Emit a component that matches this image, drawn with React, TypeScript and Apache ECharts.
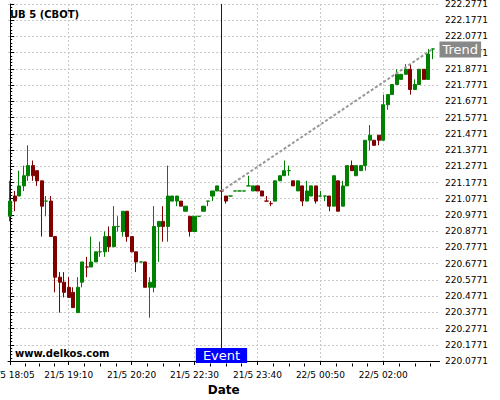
import React, { useEffect, useRef } from 'react';
import * as echarts from 'echarts';

// ---- categories (5-minute bars, two sessions) ----
function buildTimes(day: number, h: number, m: number, count: number): string[] {
  const out: string[] = [];
  let d = day, hh = h, mm = m;
  for (let i = 0; i < count; i++) {
    out.push(`${d}/5 ${String(hh).padStart(2, '0')}:${String(mm).padStart(2, '0')}`);
    mm += 5;
    if (mm >= 60) { mm -= 60; hh += 1; if (hh >= 24) { hh = 0; d += 1; } }
  }
  return out;
}
const CATEGORIES: string[] = [...buildTimes(21, 18, 5, 36), ...buildTimes(21, 22, 5, 60)];
const MAJOR_TICKS = [0, 13, 27, 41, 55, 69, 83];

// ---- OHLC values ----
const OPEN = [
  220.96875, 221.09375, 221.09375, 221.15625, 221.21875, 221.28125, 221.25, 221.1875, 221.0625, 221.0625,
  220.84375, 220.59375, 220.5625, 220.53125, 220.5, 220.375, 220.5625, 220.65625, 220.65625, 220.6875,
  220.75, 220.75, 220.84375, 220.78125, 220.90625, 220.875, 221, 220.84375, 220.75, 220.6875,
  220.6875, 220.53125, 220.53125, 220.90625, 220.9375, 220.90625, 221.0625, 221.0625, 221.0625, 221,
  220.96875, 220.875, 220.96875, 221, 221.0625, 221.09375, 221.125, 221.125, 221.09375, 221.09375,
  221.125, 221.125, 221.125, 221.15625, 221.125, 221.15625, 221.125, 221.0625, 221.046875, 221.0625,
  221.1875, 221.21875, 221.25, 221.1875, 221.125, 221.15625, 221.0625, 221.09375, 221.15625, 221.09375,
  221.09375, 221.09375, 221.03125, 221.1875, 221.03125, 221.15625, 221.28125, 221.21875, 221.25, 221.28125,
  221.4375, 221.4375, 221.46875, 221.4375, 221.65625, 221.71875, 221.78125, 221.8125, 221.84375, 221.875,
  221.75, 221.78125, 221.875, 221.8125, 222,
];
const CLOSE = [
  221.0625, 221.0625, 221.15625, 221.21875, 221.28125, 221.21875, 221.1875, 221.03125, 221.0625, 220.84375,
  220.59375, 220.5625, 220.5, 220.46875, 220.40625, 220.53125, 220.6875, 220.65625, 220.6875, 220.75,
  220.75, 220.84375, 220.78125, 220.90625, 220.90625, 221, 220.84375, 220.75, 220.6875, 220.6875,
  220.53125, 220.5625, 220.90625, 220.9375, 220.90625, 221.09375, 221.09375, 221.09375, 221.03125, 221.03125,
  220.875, 220.96875, 220.96875, 221.03125, 221.0625, 221.125, 221.15625, 221.125, 221.0625, 221.09375,
  221.125, 221.125, 221.125, 221.15625, 221.15625, 221.125, 221.09375, 221.0625, 221.046875, 221.1875,
  221.21875, 221.25, 221.25, 221.15625, 221.1875, 221.0625, 221.125, 221.15625, 221.0625, 221.09375,
  221.09375, 221.03125, 221.21875, 221, 221.15625, 221.28125, 221.25, 221.28125, 221.28125, 221.4375,
  221.46875, 221.40625, 221.4375, 221.65625, 221.71875, 221.78125, 221.84375, 221.84375, 221.875, 221.75,
  221.78125, 221.875, 221.8125, 221.96875, 222,
];
const LOW = [
  220.9375, 221, 221.09375, 221.125, 221.1875, 221.1875, 221.15625, 220.84375, 220.96875, 220.84375,
  220.5, 220.375, 220.46875, 220.46875, 220.40625, 220.375, 220.53125, 220.59375, 220.65625, 220.6875,
  220.71875, 220.71875, 220.75, 220.78125, 220.875, 220.84375, 220.8125, 220.75, 220.625, 220.6875,
  220.53125, 220.34375, 220.5, 220.6875, 220.8125, 220.8125, 221.0625, 221.03125, 221.03125, 221,
  220.84375, 220.875, 220.96875, 221, 221.03125, 221.0625, 221.125, 221.125, 221.046875, 221.09375,
  221.125, 221.125, 221.125, 221.15625, 221.125, 221.125, 221.09375, 221.0625, 221.03125, 221.0625,
  221.1875, 221.21875, 221.21875, 221.15625, 221.125, 221.03125, 221.0625, 221.09375, 221.046875, 221.09375,
  221.0625, 221, 221.03125, 221, 221.03125, 221.15625, 221.25, 221.21875, 221.25, 221.25,
  221.375, 221.40625, 221.40625, 221.4375, 221.625, 221.71875, 221.78125, 221.8125, 221.84375, 221.71875,
  221.75, 221.78125, 221.8125, 221.8125, 221.9375,
];
const HIGH = [
  221.1875, 221.125, 221.25, 221.28125, 221.40625, 221.3125, 221.25, 221.1875, 221.09375, 221.09375,
  220.84375, 220.625, 220.625, 220.59375, 220.53125, 220.59375, 220.6875, 220.71875, 220.84375, 220.75,
  220.8125, 220.875, 220.90625, 221.03125, 220.96875, 221, 221, 220.84375, 220.75, 220.6875,
  220.6875, 220.59375, 221.03125, 220.9375, 221.03125, 221.28125, 221.09375, 221.09375, 221.0625, 221.03125,
  220.96875, 220.96875, 220.96875, 221.03125, 221.0625, 221.125, 221.15625, 221.125, 221.09375, 221.09375,
  221.125, 221.125, 221.125, 221.21875, 221.15625, 221.15625, 221.125, 221.09375, 221.0625, 221.1875,
  221.21875, 221.3125, 221.28125, 221.1875, 221.1875, 221.15625, 221.1875, 221.15625, 221.15625, 221.125,
  221.09375, 221.09375, 221.21875, 221.1875, 221.1875, 221.28125, 221.3125, 221.28125, 221.28125, 221.4375,
  221.53125, 221.4375, 221.46875, 221.71875, 221.71875, 221.78125, 221.875, 221.84375, 221.90625, 221.90625,
  221.8125, 221.875, 221.875, 222, 222,
];

// ---- annotations ----
const EVENT_INDEX = 47;
const TREND_START: [number, number] = [47, 221.125];
const TREND_END: [number, number] = [94, 222.0];

// ---- y axis ----
const Y_BASE = 220.0771;
const Y_SPAN = 2.2;
const Y_STEP = 0.1;

const GREEN = '#008000';
const RED = '#800000';
const FONT = 'DejaVu Sans';

export default function App() {
  const ref = useRef<HTMLDivElement>(null);

  useEffect(() => {
    if (!ref.current) return;
    const chart = echarts.init(ref.current, undefined, { renderer: 'svg' });

    const n = CATEGORIES.length;
    const candleData = OPEN.map((o, i) => {
      const c = CLOSE[i];
      const item: any = { value: [o - Y_BASE, c - Y_BASE, LOW[i] - Y_BASE, HIGH[i] - Y_BASE] };
      if (o === c) {
        const up = i === 0 || CLOSE[i - 1] <= c;
        const col = up ? GREEN : RED;
        item.itemStyle = { color: col, color0: col, borderColor: col, borderColor0: col, borderColorDoji: col };
      }
      return item;
    });

    const minorTicks: number[] = [];
    for (let i = 0; i < MAJOR_TICKS.length - 1; i++) {
      const a = MAJOR_TICKS[i], b = MAJOR_TICKS[i + 1];
      for (let k = 1; k < 4; k++) minorTicks.push(a + ((b - a) * k) / 4);
    }
    const last = MAJOR_TICKS[MAJOR_TICKS.length - 1];
    for (let v = last + 3.5; v < n - 0.5; v += 3.5) minorTicks.push(v);

    const gridLineStyle = { color: '#c8c8c8', type: [2, 2] as any, width: 1 };
    const X_OFFSET = 2.5;

    chart.setOption({
      animation: false,
      backgroundColor: '#ffffff',
      textStyle: { fontFamily: FONT },
      title: [
        { text: 'UB 5 (CBOT)', left: 10, top: 9, padding: 0,
          textStyle: { fontSize: 10, fontWeight: 'bold', color: '#000', fontFamily: FONT } },
        { text: 'www.delkos.com', left: 15, top: 348, padding: 0,
          textStyle: { fontSize: 10, fontWeight: 'bold', color: '#000', fontFamily: FONT } },
      ],
      grid: { left: 8, right: 60.5, top: 4, bottom: 39, containLabel: false, outerBoundsMode: 'none' },
      xAxis: [
        {
          type: 'category', data: CATEGORIES, position: 'bottom', offset: X_OFFSET, boundaryGap: true,
          axisLine: { show: true, lineStyle: { color: '#000', width: 1 } },
          axisTick: {
            show: true, alignWithLabel: true, length: 4, lineStyle: { color: '#000' },
            interval: (idx: number) => MAJOR_TICKS.includes(idx),
          },
          splitLine: {
            show: true, alignWithLabel: true, lineStyle: gridLineStyle,
            interval: (idx: number) => MAJOR_TICKS.includes(idx),
          },
          axisLabel: {
            interval: (idx: number) => MAJOR_TICKS.includes(idx),
            fontSize: 9, color: '#000', margin: 7, fontFamily: FONT,
          },
          name: 'Date', nameLocation: 'middle', nameGap: 19,
          nameTextStyle: { fontSize: 12, fontWeight: 'bold', color: '#000', fontFamily: FONT },
        },
        {
          type: 'value', position: 'bottom', offset: X_OFFSET, min: -0.5, max: n - 0.5,
          axisLine: { show: false },
          axisLabel: { show: false },
          axisTick: { show: true, customValues: minorTicks, length: 3, lineStyle: { color: '#000' } },
          splitLine: { show: false },
        },
      ],
      yAxis: {
        type: 'value', position: 'right', min: 0, max: Y_SPAN, interval: Y_STEP,
        axisLine: { show: true, lineStyle: { color: '#000', width: 1 } },
        axisTick: { show: true, length: 4, lineStyle: { color: '#000' } },
        minorTick: { show: true, splitNumber: 5, length: 2, lineStyle: { color: '#000' } },
        splitLine: { show: true, lineStyle: gridLineStyle },
        axisLabel: {
          formatter: (v: number) => (Y_BASE + v).toFixed(4),
          fontSize: 9, color: '#000', margin: 5.5, fontFamily: FONT,
        },
      },
      series: [
        {
          type: 'candlestick',
          xAxisIndex: 0,
          yAxisIndex: 0,
          data: candleData,
          barWidth: 3.6,
          itemStyle: {
            color: GREEN, color0: RED, borderColor: GREEN, borderColor0: RED,
            borderColorDoji: GREEN, borderWidth: 1,
          },
          markLine: {
            silent: true,
            symbol: 'none',
            animation: false,
            data: [
              [
                {
                  coord: [EVENT_INDEX, 0],
                  lineStyle: { color: '#0000ff', width: 1, type: 'solid' },
                  label: {
                    show: true, formatter: 'Event', position: 'start', distance: -13,
                    color: '#fff', backgroundColor: '#0000ff', fontSize: 13, lineHeight: 15,
                    padding: [0, 7, 0, 7], fontFamily: FONT,
                  },
                },
                { coord: [EVENT_INDEX, Y_SPAN] },
              ],
              [
                {
                  coord: [TREND_START[0], TREND_START[1] - Y_BASE],
                  lineStyle: { color: '#999', width: 2, type: [3, 2] as any },
                  label: { show: false },
                },
                { coord: [TREND_END[0], TREND_END[1] - Y_BASE] },
              ],
              {
                yAxis: TREND_END[1] - Y_BASE,
                lineStyle: { width: 0, color: 'rgba(0,0,0,0)' },
                label: {
                  show: true, formatter: 'Trend', position: 'end', distance: 0,
                  color: '#fff', backgroundColor: '#888888', fontSize: 13, lineHeight: 16,
                  padding: [0, 3, 0, 3], fontFamily: FONT,
                },
              },
            ],
          },
        },
      ],
    });

    return () => chart.dispose();
  }, []);

  return (
    <div
      ref={ref}
      style={{ position: 'fixed', left: 0, top: 0, width: 500, height: 400, background: '#fff' }}
    />
  );
}
